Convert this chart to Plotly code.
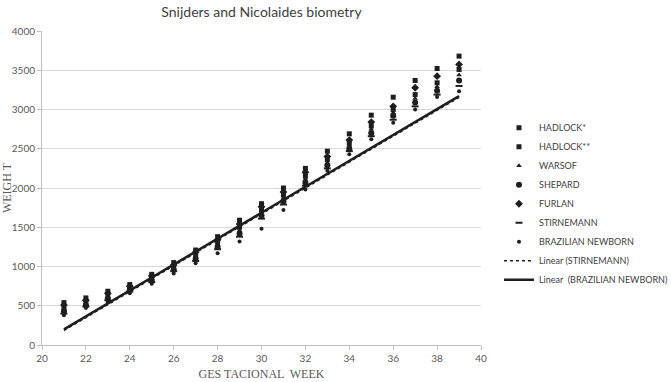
import plotly.graph_objects as go

weeks = list(range(21, 40))

hadlock1 = [540, 600, 685, 770, 900, 1050, 1210, 1380, 1590, 1800, 2000, 2250, 2469, 2690, 2928, 3157, 3370, 3522, 3680]
hadlock2 = [480, 545, 630, 730, 860, 1000, 1150, 1310, 1500, 1720, 1910, 2150, 2360, 2570, 2790, 3000, 3190, 3340, 3510]
warsof = [450, 520, 610, 710, 840, 980, 1120, 1280, 1460, 1690, 1870, 2110, 2320, 2540, 2750, 2960, 3140, 3290, 3440]
shepard = [430, 505, 590, 700, 820, 960, 1100, 1250, 1420, 1650, 1830, 2070, 2290, 2500, 2700, 2920, 3090, 3240, 3370]
furlan = [510, 570, 660, 750, 880, 1020, 1180, 1340, 1540, 1760, 1950, 2200, 2400, 2610, 2840, 3040, 3277, 3425, 3574]
stirnemann = [400, 490, 570, 680, 800, 940, 1070, 1220, 1380, 1610, 1790, 2030, 2250, 2470, 2660, 2870, 3040, 3190, 3300]
brazilian = [380, 470, 545, 660, 780, 910, 1040, 1170, 1320, 1480, 1720, 1980, 2220, 2430, 2620, 2830, 3000, 3160, 3233]

trend_weeks = [21, 39]
trend_stirnemann = [185, 3155]
trend_brazilian = [200, 3170]

y_ticks = [0, 500, 1000, 1500, 2000, 2500, 3000, 3500, 4000]
x_ticks = [20, 22, 24, 26, 28, 30, 32, 34, 36, 38, 40]

INK = "#1e1e1e"

series = [
    ("HADLOCK*", hadlock1, "square", 5),
    ("HADLOCK**", hadlock2, "square", 5),
    ("WARSOF", warsof, "triangle-up", 5),
    ("SHEPARD", shepard, "circle", 6),
    ("FURLAN", furlan, "diamond", 6),
    ("STIRNEMANN", stirnemann, "line-ew", 5),
    ("BRAZILIAN NEWBORN", brazilian, "circle", 4),
]

fig = go.Figure()
fig.add_trace(go.Scatter(x=trend_weeks, y=trend_brazilian, mode="lines",
                         line=dict(color=INK, width=2.5),
                         name="Linear  (BRAZILIAN NEWBORN)", showlegend=False))
for name, vals, sym, size in series:
    fig.add_trace(go.Scatter(
        x=weeks, y=vals, mode="markers", name=name,
        marker=dict(symbol=sym, size=size, color=INK,
                    line=dict(color=INK, width=2 if sym == "line-ew" else 0)),
    ))
fig.add_trace(go.Scatter(x=trend_weeks, y=trend_stirnemann, mode="lines",
                         line=dict(color=INK, width=1.5, dash="dot"),
                         name="Linear (STIRNEMANN)"))
fig.add_trace(go.Scatter(x=[None], y=[None], mode="lines",
                         line=dict(color=INK, width=2.5),
                         name="Linear  (BRAZILIAN NEWBORN)"))

fig.update_layout(
    width=671, height=382,
    margin=dict(l=42, r=190, t=31, b=37, autoexpand=False),
    paper_bgcolor="white", plot_bgcolor="white",
    font=dict(family="Lato", size=10, color="#595959"),
    title=dict(text="Snijders and Nicolaides biometry", x=(0.5 * 439 + 42) / 671,
               xanchor="center", y=0.968, yanchor="middle",
               font=dict(family="Lato", size=14, color="#404040")),
    legend=dict(x=1.041, xanchor="left", y=0.738, yanchor="top",
                font=dict(family="Lato", size=9, color="#404040"),
                bgcolor="rgba(0,0,0,0)", traceorder="normal"),
    showlegend=True,
)
fig.update_xaxes(range=[20, 40], tickvals=x_ticks, showgrid=False,
                 showline=True, linecolor="#bfbfbf", linewidth=1,
                 ticks="outside", ticklen=4, tickcolor="#bfbfbf",
                 zeroline=False, automargin=False,
                 title=dict(text="GES TACIONAL  WEEK", standoff=6,
                            font=dict(family="Liberation Serif", size=12, color="#595959")))
fig.update_yaxes(range=[0, 4000], tickvals=y_ticks, showgrid=True,
                 gridcolor="#d9d9d9", gridwidth=1,
                 showline=True, linecolor="#bfbfbf", linewidth=1,
                 ticks="outside", ticklen=4, tickcolor="#bfbfbf",
                 zeroline=False, automargin=False,
                 title=dict(text="WEIGH T", standoff=4,
                            font=dict(family="Liberation Serif", size=12, color="#595959")))

fig.write_html("out.html", config={"displayModeBar": False},
               post_script="document.body.style.margin='0';")
